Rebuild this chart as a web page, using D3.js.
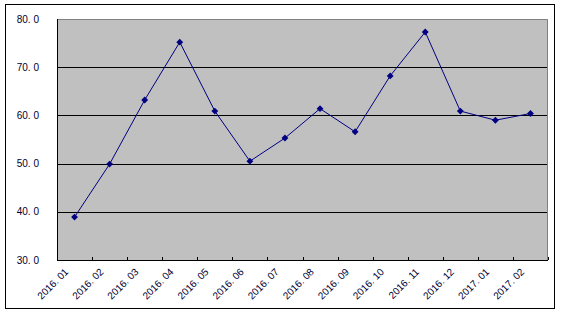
<html>
<head>
<meta charset="utf-8">
<title>2016.01-2017.02</title>
<style>
	body { margin: 0; background: #ffffff; }
	.tick text, .label { font-family: "Liberation Sans", Arial, sans-serif; font-size: 10px; fill: #000033; }
</style>
</head>
<body>
<script src="https://cdn.jsdelivr.net/npm/d3@7"></script>
<script>
	var months = ["2016. 01","2016. 02","2016. 03","2016. 04","2016. 05","2016. 06","2016. 07",
		"2016. 08","2016. 09","2016. 10","2016. 11","2016. 12","2017. 01","2017. 02"];
	var values = [38.9, 49.9, 63.2, 75.2, 60.9, 50.5, 55.3, 61.4, 56.6, 68.2, 77.3, 60.9, 59.0, 60.4];
	var yTicks = [30, 40, 50, 60, 70, 80];

	var width = 564, height = 314;
	var plot = {left: 57, top: 19, right: 548, bottom: 260};

	var svg = d3.select("body").append("svg")
		.attr("width", width)
		.attr("height", height);

	// outer frame
	svg.append("rect")
		.attr("x", 5.5).attr("y", 4.5)
		.attr("width", 549).attr("height", 304)
		.attr("fill", "#ffffff")
		.attr("stroke", "#000000");

	var x = d3.scaleBand().domain(months).range([plot.left, plot.right]);
	var y = d3.scaleLinear().domain([30, 80]).range([plot.bottom, plot.top]);

	// plot background
	svg.append("rect")
		.attr("x", plot.left).attr("y", plot.top)
		.attr("width", plot.right - plot.left).attr("height", plot.bottom - plot.top)
		.attr("fill", "#c0c0c0");
	// gray top / right border
	svg.append("path")
		.attr("d", "M" + plot.left + "," + (plot.top + 0.5) + "H" + (plot.right - 0.5) + "V" + plot.bottom)
		.attr("fill", "none")
		.attr("stroke", "#808080");

	// gridlines
	svg.selectAll(".grid")
		.data(yTicks.slice(1, -1))
		.enter()
		.append("line")
		.attr("class", "grid")
		.attr("x1", plot.left).attr("x2", plot.right - 1)
		.attr("y1", function(d){ return Math.round(y(d)) + 0.5; })
		.attr("y2", function(d){ return Math.round(y(d)) + 0.5; })
		.attr("stroke", "#000000");

	// y axis labels
	svg.selectAll(".ylab")
		.data(yTicks)
		.enter()
		.append("text")
		.attr("class", "label")
		.attr("x", 39)
		.attr("y", function(d){ return y(d); })
		.attr("dy", "0.35em")
		.attr("text-anchor", "end")
		.text(function(d){ return d3.format(".1f")(d).replace(".", ". "); });

	// axes lines
	svg.append("line")
		.attr("x1", plot.left + 0.5).attr("x2", plot.left + 0.5)
		.attr("y1", plot.top).attr("y2", plot.bottom)
		.attr("stroke", "#000000");
	svg.append("line")
		.attr("x1", plot.left).attr("x2", plot.right)
		.attr("y1", plot.bottom + 0.5).attr("y2", plot.bottom + 0.5)
		.attr("stroke", "#000000");

	// x ticks at category boundaries (inward)
	var bounds = months.map(function(m){ return x(m) + x.bandwidth(); });
	svg.selectAll(".xtick")
		.data(bounds)
		.enter()
		.append("line")
		.attr("x1", function(d){ return Math.round(d) + 0.5; })
		.attr("x2", function(d){ return Math.round(d) + 0.5; })
		.attr("y1", plot.bottom - 3).attr("y2", plot.bottom)
		.attr("stroke", "#000000");

	// x labels
	svg.selectAll(".xlab")
		.data(months)
		.enter()
		.append("text")
		.attr("class", "label")
		.attr("text-anchor", "end")
		.attr("transform", function(d){
			return "translate(" + (x(d) + x.bandwidth() / 2 - 8) + "," + (plot.bottom + 10) + ") rotate(-45)";
		})
		.attr("dy", "0.35em")
		.text(function(d){ return d; });

	// line
	var line = d3.line()
		.x(function(d, i){ return x(months[i]) + x.bandwidth() / 2; })
		.y(function(d){ return y(d); });
	svg.append("path")
		.datum(values)
		.attr("d", line)
		.attr("fill", "none")
		.attr("stroke", "#000080")
		.attr("stroke-width", 1);

	// markers
	svg.selectAll(".pt")
		.data(values)
		.enter()
		.append("path")
		.attr("d", d3.symbol().type(d3.symbolDiamond2).size(30))
		.attr("transform", function(d, i){
			return "translate(" + (x(months[i]) + x.bandwidth() / 2) + "," + y(d) + ")";
		})
		.attr("fill", "#000080");
</script>
</body>
</html>
